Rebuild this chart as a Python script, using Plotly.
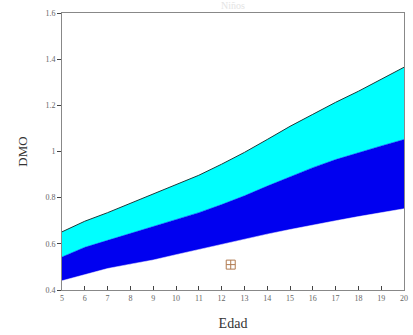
import plotly.graph_objects as go

edad = [5, 6, 7, 8, 9, 10, 11, 12, 13, 14, 15, 16, 17, 18, 19, 20]
p_inferior = [0.440, 0.468, 0.493, 0.512, 0.530, 0.553, 0.575, 0.598, 0.622, 0.642, 0.662, 0.682, 0.700, 0.718, 0.735, 0.752]
p_medio = [0.543, 0.585, 0.615, 0.645, 0.675, 0.705, 0.735, 0.770, 0.808, 0.850, 0.890, 0.930, 0.965, 0.996, 1.024, 1.052]
p_superior = [0.652, 0.698, 0.735, 0.775, 0.815, 0.855, 0.897, 0.945, 0.996, 1.052, 1.109, 1.161, 1.213, 1.261, 1.313, 1.365]
punto_x = [12.4]
punto_y = [0.51]
y_ticks = [0.4, 0.6, 0.8, 1.0, 1.2, 1.4, 1.6]
y_ticklabels = ["0.4", "0.6", "0.8", "1", "1.2", "1.4", "1.6"]
x_ticks = list(range(5, 21))

fig = go.Figure()
fig.add_trace(go.Scatter(x=edad, y=p_inferior, mode="lines",
                         line=dict(color="#ffffff", width=0.5), hoverinfo="skip", showlegend=False))
fig.add_trace(go.Scatter(x=edad, y=p_medio, mode="lines", fill="tonexty",
                         fillcolor="#0000f0", line=dict(color="#0000f0", width=0.5), showlegend=False))
fig.add_trace(go.Scatter(x=edad, y=p_superior, mode="lines", fill="tonexty",
                         fillcolor="#00ffff", line=dict(color="#1a3a3a", width=1), showlegend=False))
fig.add_trace(go.Scatter(x=punto_x, y=punto_y, mode="markers",
                         marker=dict(symbol="square-cross-open", size=9, color="#b07a50", line=dict(width=1)),
                         showlegend=False))

fnt = "Liberation Serif"
fig.update_layout(
    width=413, height=335,
    margin=dict(l=62, r=5, t=13, b=45),
    paper_bgcolor="white", plot_bgcolor="white",
    font=dict(family=fnt, color="#444"),
    xaxis=dict(range=[5, 20], tickvals=x_ticks, ticks="inside", ticklen=4,
               tickfont=dict(size=8, color="#666"), showgrid=False, zeroline=False,
               showline=True, linecolor="#888", mirror=True,
               title=dict(text="Edad", font=dict(size=14, color="#333"), standoff=16)),
    yaxis=dict(range=[0.4, 1.6], tickvals=y_ticks, ticktext=y_ticklabels, ticks="outside", ticklen=4,
               tickfont=dict(size=8, color="#666"), showgrid=False, zeroline=False,
               showline=True, linecolor="#888", mirror=True,
               title=dict(text="DMO", font=dict(size=13, color="#333"), standoff=14)),
    annotations=[dict(text="Niños", x=0.5, xref="paper", y=1.0, yref="paper",
                      yshift=0, yanchor="bottom", showarrow=False,
                      font=dict(size=10, color="#e4e4e4", family=fnt))],
)
fig.write_html("out.html", config={"displayModeBar": False},
               post_script="document.body.style.margin='0';")
